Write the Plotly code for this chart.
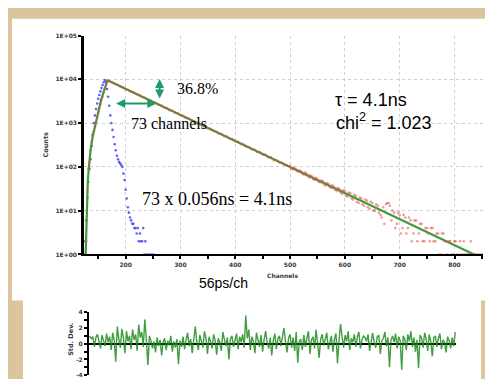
import plotly.graph_objects as go

# ---------------- data ----------------
# fit curve (rise part + mono-exponential decay)
fit_ch = [127, 129, 131, 133, 136, 140, 145, 150, 155, 160, 164, 167, 850]
fit_counts = [1, 19, 50, 100, 250, 500, 1000, 1900, 3300, 5200, 7300, 9500, 0.82]

# measured decay (rise)
rise_ch = [128, 130, 132, 134, 136, 138, 140, 142, 144, 146, 148, 150, 152, 154, 156, 158, 160, 162, 164, 166]
rise_counts = [2, 30, 90, 130, 240, 380, 520, 650, 850, 1050, 1350, 1800, 2200, 2700, 3400, 4000, 5100, 6100, 7400, 9100]

# measured decay (step 5 channels from 170)
decay_ch = list(range(170, 851, 5))
decay_counts = [9050, 8600, 7900, 7500, 6850, 6550, 5980, 5700, 5200, 4980,
                4550, 4350, 3950, 3790, 3450, 3300, 3010, 2880, 2620, 2520,
                2280, 2200, 1980, 1920, 1730, 1680, 1510, 1460, 1310, 1280,
                1140, 1110, 1000, 975, 870, 850, 760, 740, 660, 645,
                575, 565, 500, 492, 437, 430, 380, 375, 332, 327,
                289, 285, 250, 250, 218, 219, 189, 192, 165, 168,
                143, 142, 127, 124, 112, 108,
                104, 88, 91, 78, 79, 66, 70, 57, 60, 50,
                53, 44, 47, 37, 41, 33, 35, 28, 31, 24,
                28, 21, 25, 18, 22, 15, 19, 13, 17, 11,
                15, 10, 13, 8, 12, 14, 15, 6, 9, 5,
                8, 4, 7, 4, 6, 3, 6, 3, 5, 2,
                4, 2, 4, 2, 3, 1, 3, 2, 2, 1,
                2, 1, 2, 1, 1, 1, 2, 1, 1, 1, 1]

# extra measured points in the noisy tail
tail_ch = list(range(502, 848, 5))
tail_counts = [92, 96, 82, 84, 71, 74, 62, 64, 53, 56,
               46, 49, 40, 43, 35, 38, 30, 33, 26, 29,
               22, 26, 19, 23, 16, 20, 14, 18, 12, 16,
               10, 14, 9, 7, 5, 15, 13, 10, 4, 9,
               3, 8, 3, 7, 2, 6, 2, 5, 2, 4,
               3, 4, 2, 3, 1, 3, 2, 1, 2, 1,
               2, 1, 1, 2, 1, 1, 1, 1, 1, 1]

# instrument response function (blue)
irf_ch = [124, 126, 128, 130, 132, 134, 136, 138, 140, 142, 144, 146, 148, 150, 152, 154, 156, 158, 160, 162,
          164, 166, 168, 170, 172, 174, 176, 178, 180, 182, 184, 186, 188, 190, 192, 194, 196, 198, 200, 202,
          204, 206, 208, 210, 212, 214, 216, 218, 220, 222, 224, 226, 228, 230, 232, 234, 236, 238, 242, 246, 250]
irf_counts = [1, 2, 6, 20, 45, 90, 150, 300, 550, 1000, 1500, 2100, 2800, 3600, 4400, 5300, 6300, 7400, 8600, 9600,
              8800, 6000, 4000, 2500, 1500, 1000, 700, 480, 330, 240, 180, 150, 130, 120, 110, 100, 70, 50, 30, 19,
              12, 9, 7, 6, 5, 5, 4, 4, 3, 4, 2, 3, 2, 2, 4, 1, 2, 1, 1, 1, 1]

# weighted residuals (Std. Dev.)
residuals = [
    1.0, 0.6, 0.9, -0.4, 0.8, 1.2, 0.3, -0.6, 1.1, 0.5, -0.3, 1.3, 0.2, 0.9, -0.8, 1.4, 0.4, -2.3, 2.2, 0.6,
    -0.5, 1.9, 0.7, -1.2, 1.6, 0.3, 1.0, -0.7, 1.8, 0.5, 1.2, -0.9, 2.4, 0.8, 1.5, -0.4, 3.1, 0.6, -2.7, 1.0,
    0.4, -0.6, 0.3, -1.1, 0.8, -0.3, 0.5, -1.5, 0.2, 0.7, -0.8, 0.4, -0.2, 1.0, -1.0, 0.3, -0.5, 0.6, -2.6, 0.4,
    -0.4, 0.9, -0.7, 0.5, 1.4, -0.3, 0.6, -1.2, 0.8, 2.2, 0.2, -0.8, 1.1, 0.4, -0.5, 1.6, 0.7, -1.3, 0.9, 0.3,
    -0.6, 1.2, 0.4, -1.4, 0.7, 0.2, -0.9, 1.5, 0.5, -0.3, 0.8, -2.0, 0.6, 1.0, -0.4, 0.3, 1.3, -0.7, 0.9, 0.2,
    1.2, -0.5, 3.6, 0.7, 1.8, -0.8, 0.9, 0.3, -1.2, 1.4, 0.6, -0.4, 1.1, -1.0, 0.5, 1.6, 0.2, -0.6, 0.8, -1.5,
    0.4, 1.3, -0.7, 0.6, 1.0, -0.3, 0.9, 2.0, 0.2, -1.1, 0.7, 1.2, -0.5, 0.8, -0.9, 1.5, -2.4, 0.3, 0.6, -0.8,
    1.1, -0.4, 0.7, 1.6, -1.3, 0.5, 0.9, -0.6, 1.8, 0.3, -1.8, 0.6, 1.2, -0.2, 0.8, 1.4, -0.7, 0.4, 1.0, -1.0,
    0.6, 1.3, -2.5, 0.4, 2.5, 0.9, -0.5, 1.1, 0.3, 1.6, -0.8, 0.7, 0.2, 1.2, -0.4, 0.9, 1.5, -0.6, 0.5, 1.0,
    0.8, 0.3, 1.2, -0.9, 0.6, 1.4, 0.2, -0.5, 0.9, 1.1, -1.3, 0.4, 0.7, 1.5, -0.3, 0.8, -3.0, 0.5, 1.0, 0.2,
    1.3, -0.6, 0.9, 0.4, -3.3, 1.0, 0.6, -0.8, 1.2, 0.3, 1.6, -0.4, 0.8, -1.0, 0.5, -3.1, 1.1, 0.7, -0.5, 1.4,
    0.6, -0.9, 1.2, 0.3, -1.6, 0.8, 1.0, -0.4, 0.7, 1.3, -0.7, 0.5, 0.2, -1.1, 0.9, 0.4, -0.6, 0.8, -0.3, 1.5]
res_index = list(range(len(residuals)))

y_tickvals = [1, 10, 100, 1000, 10000, 100000]
y_ticktext = ["<b>1E+00</b>", "<b>1E+01</b>", "<b>1E+02</b>", "<b>1E+03</b>", "<b>1E+04</b>", "<b>1E+05</b>"]
x_tickvals = [200, 300, 400, 500, 600, 700, 800]
x_ticktext = ["<b>200</b>", "<b>300</b>", "<b>400</b>", "<b>500</b>", "<b>600</b>", "<b>700</b>", "<b>800</b>"]
res_tickvals = [-4, -2, 0, 2, 4]
res_ticktext = ["<b>-4</b>", "<b>-2</b>", "<b>0</b>", "<b>2</b>", "<b>4</b>"]
y_minor_ticks = [m * 10 ** d for d in range(5) for m in (2, 3, 4, 5, 6, 7, 8, 9)]

# ---------------- figure ----------------
W, H = 493, 379
def px(x):
    return x / W
def py(y):
    return 1 - y / H

BG = "#dcc59c"
TICKFONT = dict(family="DejaVu Sans", size=6, color="#3a3a3a")
GRID = "#cfcfcf"

fig = go.Figure()

d_ch = [c for c, _ in zip(decay_ch, decay_counts)]
d_ct = [v for _, v in zip(decay_ch, decay_counts)]
t_ch = [c for c, _ in zip(tail_ch, tail_counts)]
t_ct = [v for _, v in zip(tail_ch, tail_counts)]

fig.add_trace(go.Scatter(x=irf_ch, y=irf_counts, mode="markers",
                         marker=dict(size=2.6, color="rgba(70,70,255,0.85)"),
                         xaxis="x", yaxis="y", hoverinfo="skip"))
fig.add_trace(go.Scatter(x=fit_ch, y=fit_counts, mode="lines",
                         line=dict(color="#3f9a3a", width=2.2),
                         xaxis="x", yaxis="y", hoverinfo="skip"))
fig.add_trace(go.Scatter(x=rise_ch + d_ch + t_ch, y=rise_counts + d_ct + t_ct, mode="markers",
                         marker=dict(size=2.6, color="rgba(230,70,70,0.55)"),
                         xaxis="x", yaxis="y", hoverinfo="skip"))
# invisible trace to carry the minor-tick axis
fig.add_trace(go.Scatter(x=[None], y=[None], mode="markers", xaxis="x", yaxis="y3",
                         hoverinfo="skip", showlegend=False))

fig.add_trace(go.Scatter(x=res_index, y=residuals, mode="lines",
                         line=dict(color="rgba(30,140,30,0.85)", width=1.4),
                         xaxis="x2", yaxis="y2", hoverinfo="skip"))

shapes = [
    dict(type="rect", xref="paper", yref="paper", x0=px(4), x1=px(485), y0=py(294), y1=py(7),
         fillcolor="white", line=dict(width=0), layer="below"),
    dict(type="rect", xref="paper", yref="paper", x0=px(15), x1=px(473), y0=0, y1=py(292),
         fillcolor="white", line=dict(width=0), layer="below"),
]

serif = "Liberation Serif"
sans = "Liberation Sans"
annotations = [
    dict(text="36.8%", xref="paper", yref="paper", x=px(167), y=py(78), xanchor="left", yanchor="middle",
         showarrow=False, font=dict(family=serif, size=16, color="black")),
    dict(text="73 channels", xref="paper", yref="paper", x=px(121), y=py(114), xanchor="left", yanchor="middle",
         showarrow=False, font=dict(family=serif, size=16, color="black")),
    dict(text="τ = 4.1ns", xref="paper", yref="paper", x=px(325), y=py(90), xanchor="left", yanchor="middle",
         showarrow=False, font=dict(family=sans, size=18, color="black")),
    dict(text="chi<sup>2</sup> = 1.023", xref="paper", yref="paper", x=px(326), y=py(112), xanchor="left",
         yanchor="middle", showarrow=False, font=dict(family=sans, size=18, color="black")),
    dict(text="73 x 0.056ns = 4.1ns", xref="paper", yref="paper", x=px(132), y=py(191), xanchor="left",
         yanchor="middle", showarrow=False, font=dict(family=serif, size=18, color="black")),
    dict(text="56ps/ch", xref="paper", yref="paper", x=px(189), y=py(276), xanchor="left", yanchor="middle",
         showarrow=False, font=dict(family=sans, size=14, color="black")),
    dict(text="<b>Channels</b>", xref="paper", yref="paper", x=px(274), y=py(268), xanchor="center",
         yanchor="middle", showarrow=False, font=dict(family="DejaVu Sans", size=6, color="#3a3a3a")),
    dict(text="<b>Counts</b>", xref="paper", yref="paper", x=px(38), y=py(135), xanchor="center",
         yanchor="middle", textangle=-90, showarrow=False,
         font=dict(family="DejaVu Sans", size=6.5, color="#3a3a3a")),
    dict(text="<b>Std. Dev.</b>", xref="paper", yref="paper", x=px(63), y=py(334), xanchor="center",
         yanchor="middle", textangle=-90, showarrow=False,
         font=dict(family="DejaVu Sans", size=6.5, color="#3a3a3a")),
    # double-headed arrows
    dict(x=262, y=4.01, ax=262, ay=3.53, xref="x", yref="y", axref="x", ayref="y", text="",
         showarrow=True, arrowhead=2, startarrowhead=2, arrowside="end+start", arrowsize=0.9,
         arrowwidth=2, arrowcolor="#1f9a6c"),
    dict(x=256, y=3.45, ax=180, ay=3.45, xref="x", yref="y", axref="x", ayref="y", text="",
         showarrow=True, arrowhead=2, startarrowhead=2, arrowside="end+start", arrowsize=0.9,
         arrowwidth=2, arrowcolor="#1f9a6c"),
]

fig.update_layout(
    width=W, height=H, margin=dict(l=0, r=0, t=0, b=0),
    paper_bgcolor=BG, plot_bgcolor="white", showlegend=False,
    shapes=shapes, annotations=annotations,
    xaxis=dict(domain=[px(76), px(475)], range=[124, 852], anchor="y",
               showline=True, linecolor="black", linewidth=2,
               tickvals=x_tickvals, ticktext=x_ticktext, ticks="outside", ticklen=3, tickwidth=2,
               tickcolor="black", tickfont=TICKFONT, showgrid=True, gridcolor=GRID, griddash="dot",
               gridwidth=1, zeroline=False,
               minor=dict(dtick=50, tick0=0, ticks="outside", ticklen=3, tickwidth=2,
                          tickcolor="black", showgrid=False)),
    yaxis=dict(domain=[py(247), py(24)], type="log", range=[0, 5], anchor="x",
               showline=True, linecolor="black", linewidth=2.5,
               tickvals=y_tickvals, ticktext=y_ticktext, ticks="outside", ticklen=3, tickwidth=2,
               tickcolor="black", tickfont=TICKFONT, showgrid=True, gridcolor=GRID,
               griddash="dot", gridwidth=1, zeroline=False),
    yaxis3=dict(overlaying="y", type="log", range=[0, 5], anchor="x", side="left",
                showline=False, showticklabels=False, showgrid=False, zeroline=False,
                tickvals=y_minor_ticks, ticks="outside", ticklen=2, tickwidth=1.5, tickcolor="black"),
    xaxis2=dict(domain=[px(81), px(448)], range=[-0.5, len(residuals) - 0.5], anchor="y2",
                showline=False, showticklabels=False, ticks="", showgrid=False, zeroline=False),
    yaxis2=dict(domain=[py(370), py(306)], range=[-4, 4], anchor="x2",
                showline=True, linecolor="black", linewidth=2,
                tickvals=res_tickvals, ticktext=res_ticktext, ticks="outside", ticklen=3, tickwidth=2,
                tickcolor="black", tickfont=TICKFONT, showgrid=False, zeroline=True,
                zerolinecolor="black", zerolinewidth=2,
                minor=dict(dtick=1, tick0=0, ticks="outside", ticklen=3, tickwidth=2,
                           tickcolor="black", showgrid=False)),
)

fig.write_html("out.html")
